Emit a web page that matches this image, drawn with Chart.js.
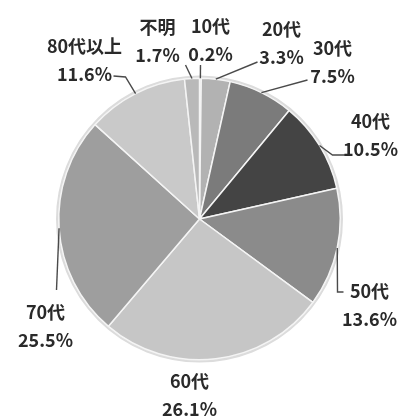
<!DOCTYPE html>
<html>
<head>
<meta charset="utf-8">
<script src="https://cdn.jsdelivr.net/npm/chart.js@4/dist/chart.umd.min.js"></script>
<style>
  html, body { margin: 0; padding: 0; background: #fff; }
  #wrap { width: 401px; height: 417px; }
</style>
</head>
<body>
<div id="wrap"><canvas id="pie"></canvas></div>
<script>
// age groups, clockwise from 12 o'clock
const ageLabels = ['10代', '20代', '30代', '40代', '50代', '60代', '70代', '80代以上', '不明'];
const sharePct = [0.2, 3.3, 7.5, 10.5, 13.6, 26.1, 25.5, 11.6, 1.7];
const sliceGrays = ['#d2d2d2', '#b2b2b2', '#7b7b7b', '#444444', '#8b8b8b', '#c6c6c6', '#9e9e9e', '#c9c9c9', '#b9b9b9'];

// label placement, offsets from pie centre (x, y of first line)
const labelPos = [
    [11, -193], [82, -190], [133, -171], [171, -98], [170, 72],
    [-10, 162], [-154, 93], [-115, -173], [-42, -192]
];
// leader line points after the arc edge point (null = no line)
const leaderPts = [
    [[1, -154]],
    [[58, -157]],
    [[108, -139]],
    [[133, -64], [147, -64]],
    [[138, 73], [144, 73]],
    null,
    [[-143, 71]],
    [[-74, -142], [-86, -143]],
    [[-14, -154]]
];

const labelPlugin = {
    id: 'outerLabels',
    beforeDatasetsDraw(chart) {
        const arc = chart.getDatasetMeta(0).data[0];
        if (!arc) return;
        const ctx = chart.ctx;
        ctx.save();
        ctx.beginPath();
        ctx.arc(arc.x, arc.y, arc.outerRadius + 1.5, 0, Math.PI * 2);
        ctx.strokeStyle = '#dcdcdc';
        ctx.lineWidth = 2.5;
        ctx.stroke();
        ctx.restore();
    },
    afterDatasetsDraw(chart) {
        const ctx = chart.ctx;
        const meta = chart.getDatasetMeta(0);
        ctx.save();
        meta.data.forEach((el, i) => {
            const mid = (el.startAngle + el.endAngle) / 2;
            const cx = el.x, cy = el.y;
            if (leaderPts[i]) {
                ctx.beginPath();
                ctx.moveTo(cx + Math.cos(mid) * el.outerRadius, cy + Math.sin(mid) * el.outerRadius);
                leaderPts[i].forEach(([px, py]) => ctx.lineTo(cx + px, cy + py));
                ctx.strokeStyle = '#4a4a4a';
                ctx.lineWidth = 1.4;
                ctx.stroke();
            }
            const [lx, ly] = labelPos[i];
            ctx.fillStyle = '#2a2a2a';
            ctx.font = 'bold 18px "Noto Sans CJK JP", sans-serif';
            ctx.textAlign = 'center';
            ctx.textBaseline = 'middle';
            ctx.fillText(ageLabels[i], cx + lx, cy + ly);
            ctx.fillText(sharePct[i].toFixed(1) + '%', cx + lx, cy + ly + 28);
        });
        ctx.restore();
    }
};

new Chart(document.getElementById('pie'), {
    type: 'pie',
    data: {
        labels: ageLabels,
        datasets: [{
            data: sharePct,
            backgroundColor: sliceGrays,
            borderColor: '#f4f4f4',
            borderWidth: 1.5
        }]
    },
    options: {
        responsive: true,
        maintainAspectRatio: false,
        animation: false,
        layout: { padding: { left: 58, right: 60, top: 77, bottom: 56 } },
        plugins: {
            legend: { display: false },
            tooltip: { enabled: false }
        }
    },
    plugins: [labelPlugin]
});
</script>
</body>
</html>
